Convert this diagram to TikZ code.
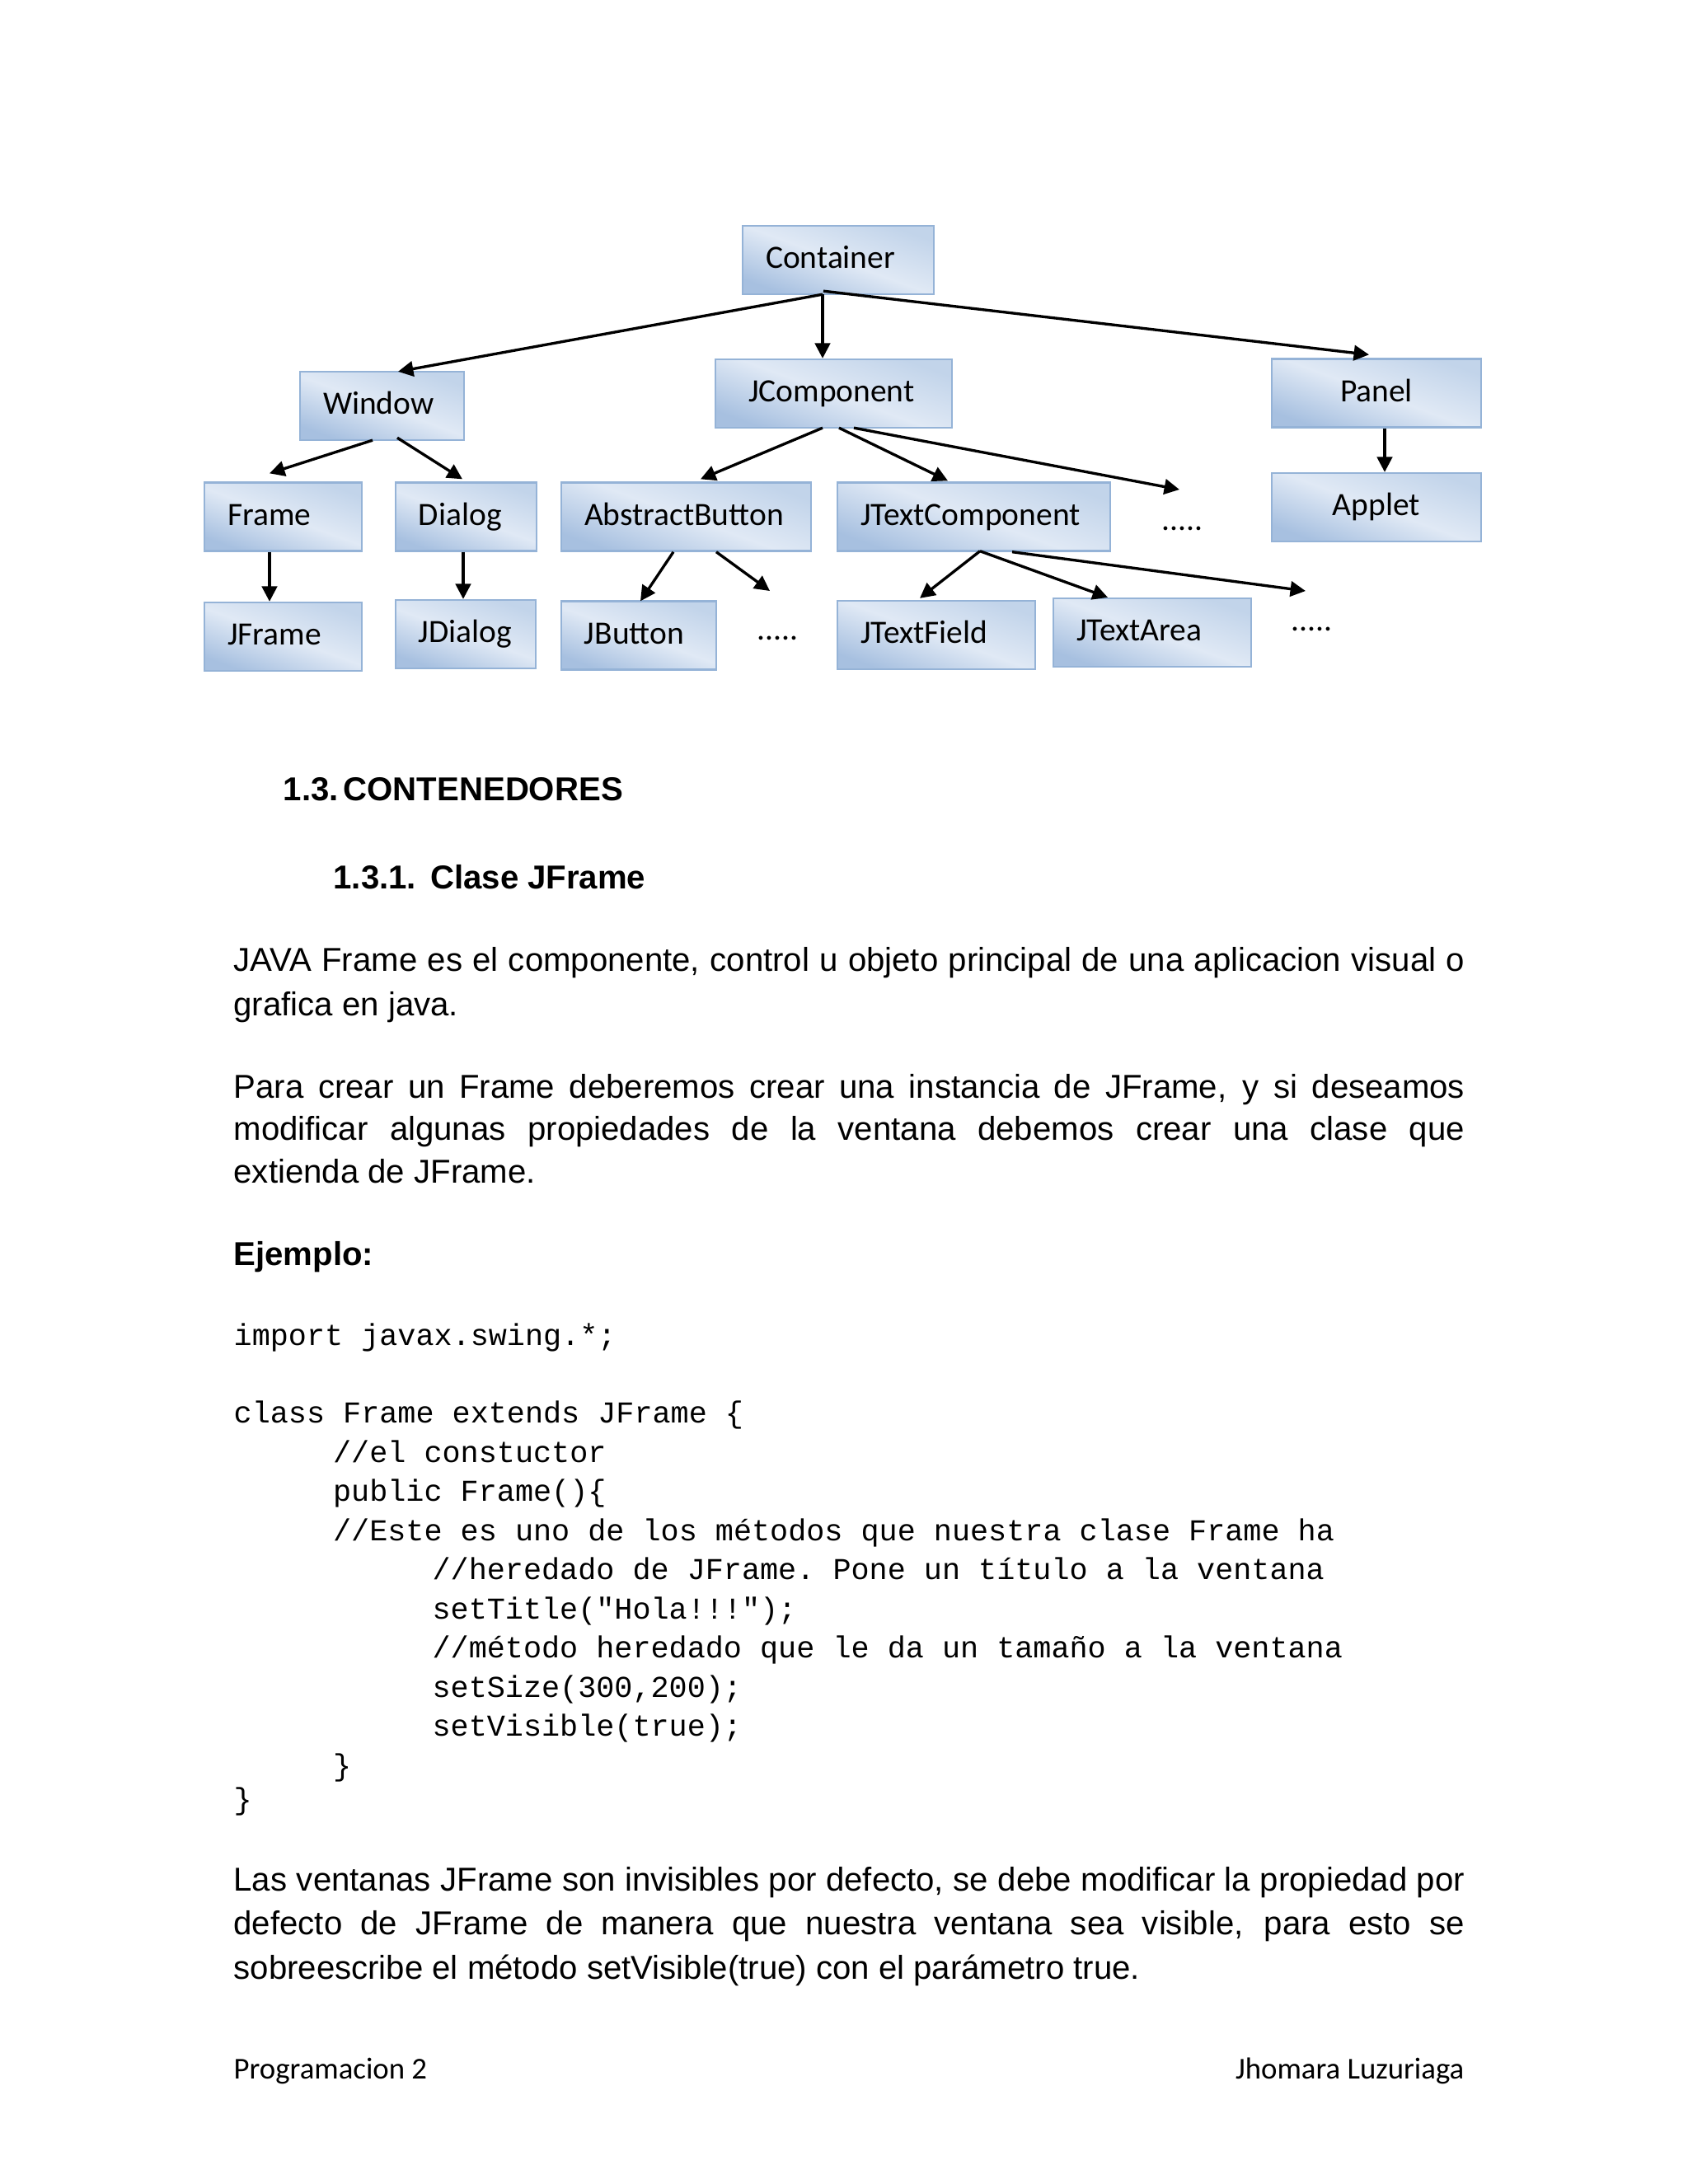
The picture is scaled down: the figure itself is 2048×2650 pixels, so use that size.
\documentclass[tikz,border=0pt]{standalone}
\usepackage{fontspec}
\setmainfont{Liberation Sans}
\setmonofont{Liberation Mono}
\newfontfamily\calibri{Carlito}
\usetikzlibrary{calc, arrows.meta}

\definecolor{clsline}{HTML}{95B3D7}
\definecolor{clsdark}{HTML}{A7C0E0}
\definecolor{clsmid}{HTML}{C2D4EA}
\definecolor{clslight}{HTML}{E0E9F5}

\newcommand{\jline}[1]{\makebox[446.3pt][s]{\spaceskip=0pt\xspaceskip=0pt #1}}

\begin{document}
\begin{tikzpicture}[
        x=0.298828pt, y=-0.298828pt,
        cls/.style={draw=clsline, line width=.7pt, top color=clsmid, bottom color=clsdark, middle color=clslight, shading angle=-20, minimum height=24.8pt, inner xsep=8.37pt, inner ysep=0pt, text height=8.6pt, text depth=2.5pt, align=left, font=\calibri\fontsize{11.8}{14}\selectfont},
        mid/.style={align=center},
        dots/.style={anchor=base west, inner sep=0pt, font=\calibri\fontsize{11.8}{14}\selectfont},
        arr/.style={line width=1pt, -{Triangle[length=5.5pt, width=5.5pt]}},
        body/.style={anchor=base west, inner sep=0pt, text width=446.3pt, align=left, font=\fontsize{12}{16}\selectfont, execute at begin node={\spaceskip=0pt\xspaceskip=0pt}},
        head/.style={anchor=base west, inner sep=0pt, font=\fontsize{12}{16}\selectfont\bfseries},
        code/.style={anchor=base west, inner sep=0pt, text width=446.3pt, align=left, font=\ttfamily\fontsize{11}{14.19}\selectfont, execute at begin node={\spaceskip=0pt\xspaceskip=0pt}},
        foot/.style={inner sep=0pt, font=\calibri\fontsize{11}{13}\selectfont},
        ]
    \useasboundingbox (0, 0) rectangle (2048, 2650);

    % class tree
    \node (Container) at (1017, 315.5) [cls, text width=52.59pt] {Container};

    \node (Window) at (463.5, 492.5) [cls, text width=42.73pt] {Window};
    \node (JComponent) at (1011.5, 477.5) [cls, text width=69.03pt] {\kern3.6pt JComponent};
    \node (Panel) at (1670, 477) [cls, mid, text width=59.17pt] {Panel};

    \node (Frame) at (343.5, 627) [cls, text width=40.34pt] {Frame};
    \node (Dialog) at (565.5, 627) [cls, text width=34.37pt] {Dialog};
    \node (AbstractButton) at (832.5, 627) [cls, text width=73.81pt] {AbstractButton};
    \node (JTextComponent) at (1181.5, 627) [cls, text width=82.18pt] {JTextComponent};
    \node (Applet) at (1670, 615.5) [cls, mid, text width=59.17pt] {Applet};
    \node (dotsB) at (1409, 643) [dots] {.....};

    \node (JFrame) at (343.5, 772.5) [cls, text width=40.34pt] {JFrame};
    \node (JDialog) at (565, 769.5) [cls, text width=34.07pt] {JDialog};
    \node (JButton) at (775, 771) [cls, text width=39.45pt] {JButton};
    \node (dotsA) at (918, 776) [dots] {.....};
    \node (JTextField) at (1136, 770.5) [cls, text width=54.98pt] {JTextField};
    \node (JTextArea) at (1398, 767.5) [cls, text width=54.98pt] {JTextArea};
    \node (dotsC) at (1566, 765) [dots] {.....};

    \coordinate (endA) at (934, 717);
    \coordinate (endB) at (1431, 594);
    \coordinate (endC) at (1584, 717);

    \draw [arr] ($(Container.south)+(-19,-1)$) -- ($(Window.north)+(19.5,1)$);
    \draw [arr] ($(Container.south)+(-19,-1)$) -- ($(JComponent.north)+(-13.5,0)$);
    \draw [arr] ($(Container.south)+(-18,-5)$) -- ($(Panel.north)+(-9,-4)$);

    \draw [arr] ($(Window.south)+(-11.5,-1)$) -- ($(Frame.north)+(-16.5,-10)$);
    \draw [arr] ($(Window.south)+(18.5,-4)$) -- ($(Dialog.north)+(-4.5,-3)$);
    \draw [arr] ($(Frame.south)+(-16.5,0)$) -- ($(JFrame.north)+(-16.5,0)$);
    \draw [arr] ($(Dialog.south)+(-3.5,0)$) -- ($(JDialog.north)+(-3,0)$);

    \draw [arr] ($(JComponent.south)+(-13.5,-1)$) -- ($(AbstractButton.north)+(17.5,-3)$);
    \draw [arr] ($(JComponent.south)+(6.5,-1)$) -- ($(JTextComponent.north)+(-31.5,-1)$);
    \draw [arr] ($(JComponent.south)+(24.5,-1)$) -- (endB);
    \draw [arr] ($(AbstractButton.south)+(-15.5,0)$) -- ($(JButton.north)+(2,1)$);
    \draw [arr] ($(AbstractButton.south)+(36.5,0)$) -- (endA);

    \draw [arr] ($(JTextComponent.south)+(7.5,-1)$) -- ($(JTextField.north)+(-20,-2)$);
    \draw [arr] ($(JTextComponent.south)+(7.5,-1)$) -- ($(JTextArea.north)+(-54,0)$);
    \draw [arr] ($(JTextComponent.south)+(46.5,0)$) -- (endC);
    \draw [arr] ($(Panel.south)+(10,0)$) -- ($(Applet.north)+(10,0)$);

    % text of the page
    \node (secHead) at (343, 971) [head] {1.3.\kern1.8pt CONTENEDORES};
    \node (subHead) at (404, 1078) [head] {1.3.1.\kern5.1pt Clase JFrame};

    \node (parA) at (283, 1178.5) [body] {\jline{JAVA Frame es el componente, control u objeto principal de una aplicacion visual o}\\
        grafica en java.};
    \node (parB) at (283, 1332) [body, font=\fontsize{12}{15.5}\selectfont] {\jline{Para crear un Frame deberemos crear una instancia de JFrame, y si deseamos}\\
        \jline{modificar algunas propiedades de la ventana debemos crear una clase que}\\
        extienda de JFrame.};
    \node (example) at (283, 1535) [head] {Ejemplo:};

    \node (codeBlock) at (283, 1632) [code] {import javax.swing.*;\\[14.19pt]
        class Frame extends JFrame \{\\
        \hspace*{36pt}//el constuctor\\
        \hspace*{36pt}public Frame()\{\\
        \hspace*{36pt}//Este es uno de los métodos que nuestra clase Frame ha\\
        \hspace*{72pt}//heredado de JFrame. Pone un título a la ventana\\
        \hspace*{72pt}setTitle("Hola!!!");\\
        \hspace*{72pt}//método heredado que le da un tamaño a la ventana\\
        \hspace*{72pt}setSize(300,200);\\
        \hspace*{72pt}setVisible(true);\\
        \hspace*{36pt}\}\\[-1.94pt]
        \}};

    \node (parC) at (283, 2294) [body] {\jline{Las ventanas JFrame son invisibles por defecto, se debe modificar la propiedad por}\\
        \jline{defecto de JFrame de manera que nuestra ventana sea visible, para esto se}\\
        sobreescribe el método setVisible(true) con el parámetro true.};

    \node (footL) at (283, 2522) [foot, anchor=base west] {Programacion 2};
    \node (footR) at (1777, 2522) [foot, anchor=base east] {Jhomara Luzuriaga};
\end{tikzpicture}
\end{document}
